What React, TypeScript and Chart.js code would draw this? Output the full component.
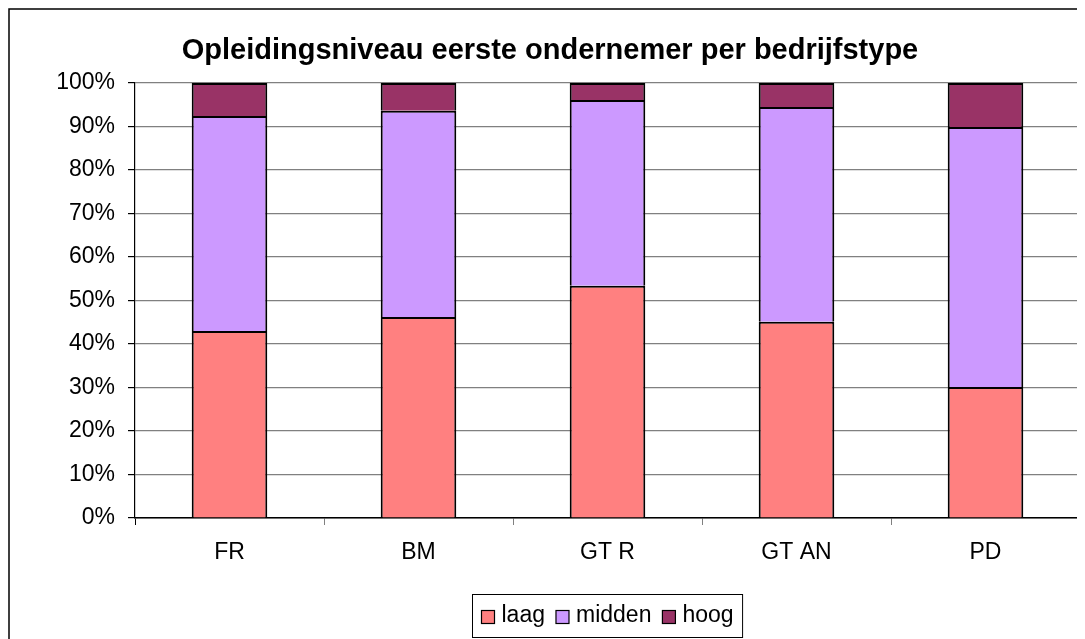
import React, { useEffect, useRef } from "react";
import { Chart, registerables } from "chart.js";

Chart.register(...registerables);

const titleText = "Opleidingsniveau eerste ondernemer per bedrijfstype";
const categories = ["FR", "BM", "GT R", "GT AN", "PD"];
const laag = [43.0, 46.2, 53.4, 45.1, 30.1];
const midden = [49.4, 47.4, 42.7, 49.4, 59.8];
const hoog = [7.6, 6.4, 3.9, 5.5, 10.1];
const seriesNames = ["laag", "midden", "hoog"];
const seriesColors = ["#FF8080", "#CC99FF", "#993366"];
const yMin = 0;
const yMax = 100;
const yStep = 10;

const FONT = "'Liberation Sans', Arial, Helvetica, sans-serif";

const decorPlugin = {
  id: "decor",
  afterDraw(chart: any) {
    const ctx = chart.ctx as CanvasRenderingContext2D;
    const ca = chart.chartArea;
    ctx.save();
    // outer chart border (right/bottom outside viewport)
    ctx.strokeStyle = "#000";
    ctx.lineWidth = 1.5;
    ctx.strokeRect(1, 1, chart.width + 20, chart.height + 20);
    // plot-area right border
    ctx.strokeStyle = "#808080";
    ctx.lineWidth = 1.5;
    ctx.beginPath();
    ctx.moveTo(ca.right, ca.top);
    ctx.lineTo(ca.right, ca.bottom + 7);
    ctx.stroke();

    // legend
    const datasets = chart.data.datasets;
    ctx.font = `23px ${FONT}`;
    const pad = 9;
    const sq = 13;
    const gap = 7;
    const spacing = 11;
    const widths = datasets.map((d: any) => ctx.measureText(d.label).width);
    let total = pad * 2;
    widths.forEach((w: number, i: number) => {
      total += sq + gap + w + (i < widths.length - 1 ? spacing : 0);
    });
    const cx = (ca.left + ca.right) / 2;
    const bx = Math.round(cx - total / 2) + 0.5;
    const by = 586.5;
    const bh = 43;
    ctx.fillStyle = "#fff";
    ctx.fillRect(bx, by, total, bh);
    ctx.strokeStyle = "#000";
    ctx.lineWidth = 1;
    ctx.strokeRect(bx, by, total, bh);
    let x = bx + pad;
    const midY = by + bh / 2;
    ctx.textBaseline = "middle";
    ctx.textAlign = "left";
    datasets.forEach((d: any, i: number) => {
      ctx.fillStyle = d.backgroundColor;
      ctx.fillRect(x, midY - sq / 2 + 1, sq, sq);
      ctx.strokeStyle = "#000";
      ctx.lineWidth = 1.2;
      ctx.strokeRect(x, midY - sq / 2 + 1, sq, sq);
      x += sq + gap;
      ctx.fillStyle = "#000";
      ctx.fillText(d.label, x, midY);
      x += widths[i] + spacing;
    });
    ctx.restore();
  },
};

export default function App() {
  const canvasRef = useRef<HTMLCanvasElement | null>(null);

  useEffect(() => {
    const canvas = canvasRef.current;
    if (!canvas) return;
    const seriesData = [laag, midden, hoog];
    const chart = new Chart(canvas, {
      type: "bar",
      data: {
        labels: categories,
        datasets: seriesNames.map((name, i) => ({
          label: name,
          data: seriesData[i],
          backgroundColor: seriesColors[i],
          borderColor: "#000",
          borderWidth: 2,
          borderSkipped: "start",
          categoryPercentage: 1,
          barPercentage: 0.4,
        })),
      },
      options: {
        responsive: false,
        animation: false,
        devicePixelRatio: 1,
        layout: { padding: { left: 12, right: 13, top: 0, bottom: 80 } },
        plugins: {
          legend: { display: false },
          tooltip: { enabled: false },
          title: {
            display: true,
            text: titleText,
            color: "#000",
            font: { family: FONT, size: 29, weight: "bold" },
            padding: { top: 25.5, bottom: 14.7 },
          },
        },
        scales: {
          x: {
            stacked: true,
            offset: true,
            grid: {
              display: true,
              offset: true,
              drawOnChartArea: false,
              tickLength: 7,
              color: (c: any) => (c.index === 0 ? "#000" : "#808080"),
            },
            border: { display: true, color: "#000", width: 1.5 },
            ticks: {
              color: "#000",
              font: { family: FONT, size: 23 },
              padding: 14,
              maxRotation: 0,
              autoSkip: false,
            },
            afterFit: (s: any) => {
              s.height = 50;
            },
          },
          y: {
            stacked: true,
            min: yMin,
            max: yMax,
            grid: {
              color: "#808080",
              lineWidth: 1.2,
              tickLength: 7,
              tickColor: "#000",
            },
            border: { display: true, color: "#000", width: 1.2 },
            ticks: {
              stepSize: yStep,
              color: "#000",
              font: { family: FONT, size: 23 },
              padding: 13,
              callback: (v: any) => `${v}%`,
            },
            afterFit: (s: any) => {
              s.width = 115;
            },
          },
        },
      },
      plugins: [decorPlugin],
    });
    return () => chart.destroy();
  }, []);

  return (
    <div style={{ width: 1077, height: 631, overflow: "hidden" }}>
      <canvas
        ref={canvasRef}
        width={1085}
        height={640}
        style={{ display: "block", width: 1085, height: 640 }}
      />
    </div>
  );
}
